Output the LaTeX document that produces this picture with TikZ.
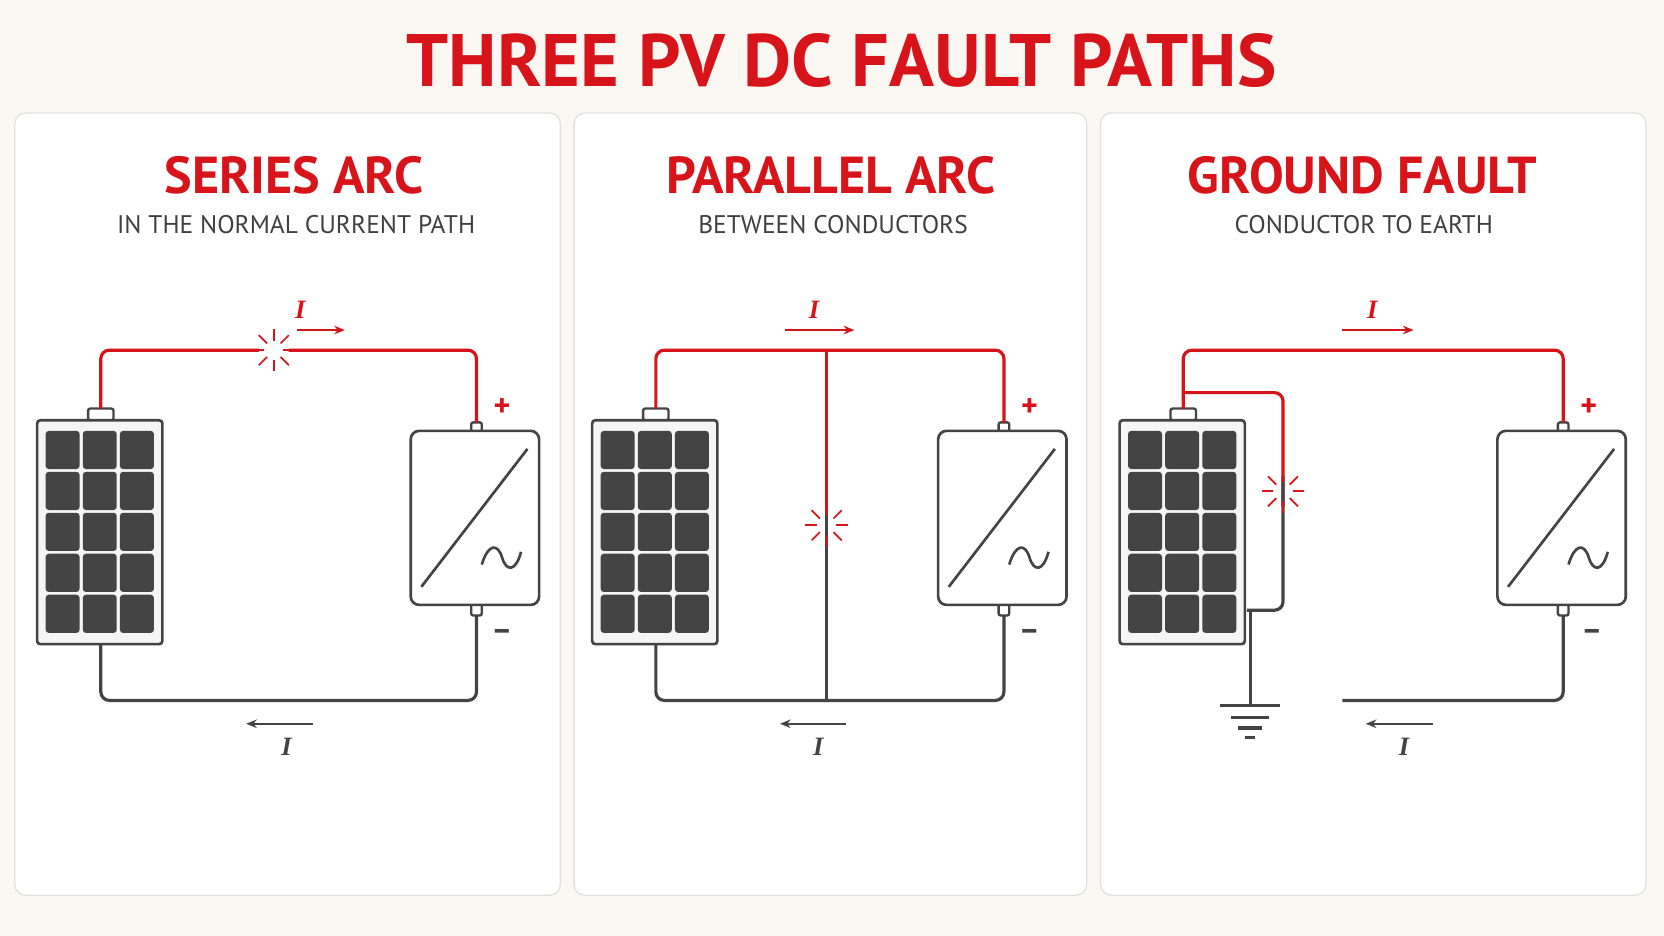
\documentclass[tikz,border=0pt]{standalone}
\usepackage{fontspec}
\setmainfont{PT Sans}
\newfontfamily\ifont{Liberation Serif}
\usetikzlibrary{arrows.meta}
\definecolor{fred}{HTML}{D7141A}
\definecolor{dk}{HTML}{444444}
\definecolor{bg}{HTML}{FBF8F3}
\tikzset{
  wire/.style={line width=3pt, rounded corners=8pt},
  rw/.style={wire, fred},
  gw/.style={wire, dk},
  card/.style={draw=black!12, line width=1.2pt, fill=white, rounded corners=10pt},
  ttl/.style={fred, font=\bfseries\fontsize{49}{52}\selectfont},
  sub/.style={black!75, font=\fontsize{24}{27}\selectfont},
  cur/.style={font=\ifont\itshape\bfseries\fontsize{25}{27}\selectfont},
  carr/.style={line width=1.6pt, -{Stealth[length=10pt,width=8pt]}},
  pm/.style={font=\bfseries\fontsize{30}{32}\selectfont},
  pics/pv/.style={code={
    \draw[dk, line width=2.2pt, fill=white, rounded corners=2pt] (-12,-11) rectangle (12,0);
    \draw[dk, line width=2.5pt, fill=white!96!black, rounded corners=3pt] (-60,0) rectangle (58,211);
    \foreach \i in {0,1,2}{\foreach \j in {0,1,2,3,4}{
      \fill[dk, rounded corners=3pt] (-52+\i*35,10+\j*38.6) rectangle ++(32,36);}}
  }},
  pics/inv/.style={code={
    \draw[dk, line width=2.2pt, fill=white, rounded corners=2pt] (-5,-8) rectangle (5,1);
    \draw[dk, line width=2.2pt, fill=white, rounded corners=2pt] (-5,163) rectangle (5,174);
    \draw[dk, line width=2.5pt, fill=white, rounded corners=8pt] (-62,0) rectangle (59,164);
    \draw[dk, line width=2.5pt] (-52,147) -- (48,17);
    \draw[dk, line width=2.5pt] (5,126) .. controls (11,106) and (20,106) .. (24,119) .. controls (28,133) and (37,133) .. (42,114);
  }},
  pics/spark/.style={code={
    \foreach \a in {0,45,...,315}{\draw[fred, line width=1.6pt] (\a:9) -- (\a:20);}
  }},
}
\begin{document}
\begin{tikzpicture}[x=1pt,y=-1pt]
\useasboundingbox (0,0) rectangle (1568,882);
\fill[bg] (0,0) rectangle (1568,882);
\node[fred, font=\bfseries\fontsize{70}{76}\selectfont] (title) at (793,57) {THREE PV DC FAULT PATHS};
\node[card, minimum width=514pt, minimum height=737pt] (c1) at (271,475) {};
\node[card, minimum width=483pt, minimum height=737pt] (c2) at (782.5,475) {};
\node[card, minimum width=514pt, minimum height=737pt] (c3) at (1294,475) {};
\node[ttl] (t1) at (277,165) {SERIES ARC};
\node[sub] (s1) at (279,212) {IN THE NORMAL CURRENT PATH};
\node[ttl] (t2) at (783,165) {PARALLEL ARC};
\node[sub] (s2) at (785,212) {BETWEEN CONDUCTORS};
\node[ttl] (t3) at (1284,165) {GROUND FAULT};
\node[sub] (s3) at (1285,212) {CONDUCTOR TO EARTH};

% ---- panel 1
\pic at (95,396) {pv};
\pic at (449,406) {inv};
\coordinate (p1t) at (95,385); \coordinate (p1b) at (95,607);
\coordinate (i1t) at (449,398); \coordinate (i1b) at (449,580);
\coordinate (a1) at (258,330);
\draw[rw] (p1t) |- ([xshift=-14pt]a1);
\draw[rw] ([xshift=14pt]a1) -| (i1t);
\pic at (a1) {spark};
\draw[gw] (p1b) |- (449,660) -- (i1b);
\node[fred, cur] (I1a) at (283,292) {I};
\draw[fred, carr] (280,311) -- (325,311);
\draw[dk, carr] (295,682) -- (232,682);
\node[dk, cur] (I1b) at (270,704) {I};
\node[fred, pm] at (473,384) {+};
\node[dk, pm] at (473,598) {–};

% ---- panel 2
\pic at (618,396) {pv};
\pic at (946,406) {inv};
\coordinate (p2t) at (618,385); \coordinate (p2b) at (618,607);
\coordinate (i2t) at (946,398); \coordinate (i2b) at (946,580);
\coordinate (a2) at (779,495);
\draw[rw] (p2t) |- (946,330) -- (i2t);
\draw[gw] (p2b) |- (946,660) -- (i2b);
\draw[rw] (779,330) -- ([yshift=-14pt]a2);
\draw[gw] ([yshift=14pt]a2) -- (779,660);
\pic at (a2) {spark};
\node[fred, cur] (I2a) at (767,292) {I};
\draw[fred, carr] (740,311) -- (805,311);
\draw[dk, carr] (797,682) -- (735,682);
\node[dk, cur] (I2b) at (771,704) {I};
\node[fred, pm] at (970,384) {+};
\node[dk, pm] at (970,598) {–};

% ---- panel 3
\pic at (1115,396) {pv};
\pic at (1473,406) {inv};
\coordinate (p3t) at (1115,385);
\coordinate (i3t) at (1473,398); \coordinate (i3b) at (1473,580);
\coordinate (a3) at (1209,463);
\draw[rw] (p3t) |- (1473,330) -- (i3t);
\draw[rw] (1115,370) -| ([yshift=-14pt]a3);
\draw[gw] ([yshift=14pt]a3) |- (1175,575);
\pic at (a3) {spark};
\draw[dk, line width=3pt] (1178,575) -- (1178,665);
\draw[dk, line width=3pt] (1150,665) -- (1206,665);
\draw[dk, line width=3pt] (1160,676) -- (1196,676);
\draw[dk, line width=3pt] (1167,686) -- (1189,686);
\draw[dk, line width=3pt] (1173,695) -- (1183,695);
\draw[gw] (1265,660) -| (i3b);
\node[fred, cur] (I3a) at (1293,292) {I};
\draw[fred, carr] (1265,311) -- (1332,311);
\draw[dk, carr] (1350,682) -- (1287,682);
\node[dk, cur] (I3b) at (1323,704) {I};
\node[fred, pm] at (1497,384) {+};
\node[dk, pm] at (1500,598) {–};
\end{tikzpicture}
\end{document}
